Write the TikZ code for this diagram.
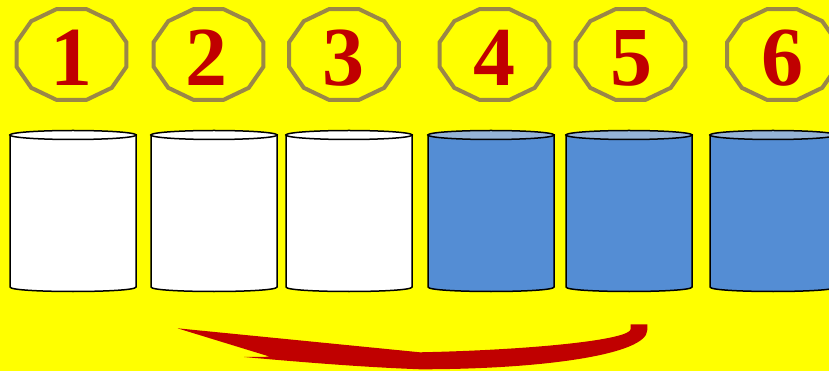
\documentclass[tikz,border=0pt]{standalone}
\usepackage{fontspec}
\setmainfont{Liberation Serif}
\definecolor{bgyellow}{HTML}{FFFF00}
\definecolor{octcol}{HTML}{9A8747}
\definecolor{numred}{HTML}{C00000}
\definecolor{cylblue}{HTML}{548DD4}
\definecolor{cyltop}{HTML}{95B3D7}
\newcommand\mycyl[3]{%
  \coordinate (#1) at (#2+63,211);
  \path[cylbody, fill=#3] (#2,135) -- (#2,287) .. controls (#2,293) and (#2+126,293) .. (#2+126,287) -- (#2+126,135) -- cycle;
}
\newcommand\mytop[3]{%
  \path[cylbody, fill=#3] (#2+63,135) ellipse [x radius=63, y radius=4.5];
}
\begin{document}
\begin{tikzpicture}[x=1pt,y=-1pt,
  dodec/.style={draw=octcol, line width=4pt, line join=miter},
  numtxt/.style={text=numred, font=\fontsize{84}{84}\selectfont\bfseries, anchor=base, inner sep=0pt},
  cylbody/.style={draw=black, line width=1.5pt},
  arrowfill/.style={fill=numred}]
\useasboundingbox (0,0) rectangle (829,371);
\fill[bgyellow] (0,0) rectangle (829,371);
\clip (0,0) rectangle (829,371);
% dodecagons
\foreach \i/\cx in {1/71.5,2/208.5,3/344,4/494.5,5/630.5,6/782}{
  \coordinate (p\i) at (\cx,54.5);
  \draw[dodec, shift={(p\i)}] plot[samples at={15,45,...,345}] (\x:56.9pt and 47.1pt) -- cycle;
}
\node[numtxt] (n1) at (71,85.5) {1};
\node[numtxt] (n2) at (206,85.5) {2};
\node[numtxt] (n3) at (343,85.5) {3};
\node[numtxt] (n4) at (494,85.5) {4};
\node[numtxt] (n5) at (631.5,85.5) {5};
\node[numtxt] (n6) at (782.5,85.5) {6};
% cylinders
\mycyl{c1}{10}{white}\mytop{c1}{10}{white}
\mycyl{c2}{151}{white}\mytop{c2}{151}{white}
\mycyl{c3}{286}{white}\mytop{c3}{286}{white}
\mycyl{c4}{428}{cylblue}\mytop{c4}{428}{cyltop}
\mycyl{c5}{566}{cylblue}\mytop{c5}{566}{cyltop}
\mycyl{c6}{710}{cylblue}\mytop{c6}{710}{cyltop}
% curved arrow
\fill[arrowfill] (177.5,328.3) -- (270,356.7) -- (244,357)
  .. controls (300,362) and (360,367) .. (420,369.3)
  .. controls (540,369.3) and (647.3,355) .. (647.3,330)
  -- (647.3,324.3) -- (630.7,324.3) -- (630.7,329)
  .. controls (630.7,340) and (530,350) .. (420,352.3) -- cycle;
\end{tikzpicture}
\end{document}
